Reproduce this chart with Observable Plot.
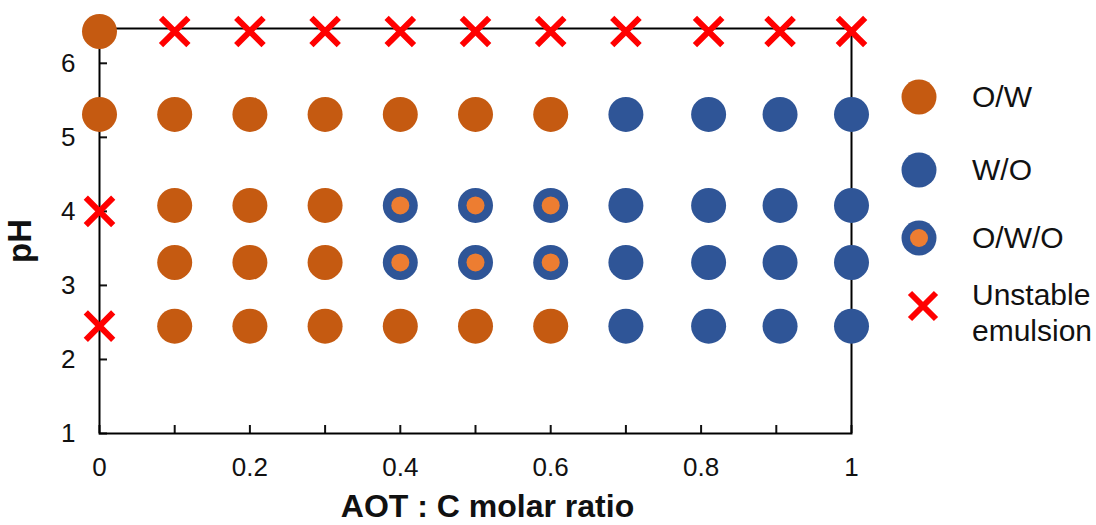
<!DOCTYPE html>
<html><head><meta charset="utf-8">
<script src="https://cdn.jsdelivr.net/npm/d3@7"></script>
<script src="https://cdn.jsdelivr.net/npm/@observablehq/plot@0.6"></script>
<style>
body{margin:0;background:#fff;font-family:"Liberation Sans",Arial,sans-serif;}
#wrap{position:relative;width:1096px;height:525px;overflow:hidden;}
#chart{position:absolute;left:0;top:0;}
.item{position:absolute;left:899px;display:flex;align-items:center;font-size:30px;color:#111;line-height:36px;}
.sym{width:40px;height:40px;display:flex;align-items:center;justify-content:center;margin-right:33px;}
</style>
</head><body>
<div id="wrap"><div id="chart"></div><div id="legend"></div></div>
<script>
// AOT : C molar ratio columns
const ratio = [0, 0.1, 0.2, 0.3, 0.4, 0.5, 0.6, 0.7, 0.81, 0.905, 1];
// pH of each row
const rowPH = [6.43, 5.31, 4.08, 3.31, 2.45];
// state per row/column: O = O/W, W = W/O, M = O/W/O, X = unstable, - = none
const rowState = [
  ["O","X","X","X","X","X","X","X","X","X","X"],
  ["O","O","O","O","O","O","O","W","W","W","W"],
  ["-","O","O","O","M","M","M","W","W","W","W"],
  ["-","O","O","O","M","M","M","W","W","W","W"],
  ["X","O","O","O","O","O","O","W","W","W","W"]
];
// extra unstable point on the y axis
const edgeRatio = [0];
const edgePH = [4.0];
const yTicks = [1, 2, 3, 4, 5, 6];
const xMinorTicks = [0, 0.1, 0.2, 0.3, 0.4, 0.5, 0.6, 0.7, 0.8, 0.9, 1];
const xLabelTicks = [0, 0.2, 0.4, 0.6, 0.8, 1];
const legendLabels = ["O/W", "W/O", "O/W/O", "Unstable<br>emulsion"];

const colOW = "#C55A11", colWO = "#2F5597", colInner = "#ED7D31", colX = "#FF0000";

const pts = [];
rowState.forEach((row, i) => row.forEach((s, j) => {
  if (s !== "-") pts.push({ratio: ratio[j], pH: rowPH[i], s});
}));
edgeRatio.forEach((r, k) => pts.push({ratio: r, pH: edgePH[k], s: "X"}));

const fmt = d => d === 0 ? "0" : d === 1 ? "1" : String(d);

const chart = Plot.plot({
  width: 870, height: 525,
  marginLeft: 99, marginRight: 19, marginTop: 28, marginBottom: 92,
  style: {fontFamily: "Liberation Sans, Arial, sans-serif", color: "#111", background: "#fff"},
  x: {domain: [0, 1], label: null},
  y: {domain: [1, 6.47], label: null},
  marks: [
    Plot.axisX({ticks: xMinorTicks, tickSize: -8, tickFormat: () => "", strokeWidth: 2, label: null}),
    Plot.axisX({ticks: xLabelTicks, tickSize: 0, tickPadding: 24, tickFormat: fmt, fontSize: 26, label: null}),
    Plot.axisY({ticks: yTicks, tickSize: -8, tickFormat: () => "", strokeWidth: 2, label: null}),
    Plot.axisY({ticks: yTicks, tickSize: 0, tickPadding: 24, tickFormat: fmt, fontSize: 26, label: null}),
    Plot.frame({stroke: "#000", strokeWidth: 2}),
    Plot.dot(pts.filter(d => d.s === "O"), {x: "ratio", y: "pH", r: 17.5, fill: colOW}),
    Plot.dot(pts.filter(d => d.s === "W" || d.s === "M"), {x: "ratio", y: "pH", r: 17.5, fill: colWO}),
    Plot.dot(pts.filter(d => d.s === "M"), {x: "ratio", y: "pH", r: 9, fill: colInner}),
    Plot.dot(pts.filter(d => d.s === "X"), {x: "ratio", y: "pH", r: 12.5, symbol: "times", stroke: colX, strokeWidth: 6}),
    Plot.text(["AOT : C molar ratio"], {frameAnchor: "bottom", dx: 12, dy: 83, fontSize: 32, fontWeight: "bold", fill: "#111"}),
    Plot.text(["pH"], {frameAnchor: "left", dx: -79, dy: 32, rotate: -90, fontSize: 33, fontWeight: "bold", fill: "#111"})
  ]
});
document.getElementById("chart").appendChild(chart);

// legend
const legend = document.getElementById("legend");
const syms = [
  `<svg width="40" height="40"><circle cx="20" cy="20" r="17.5" fill="${colOW}"/></svg>`,
  `<svg width="40" height="40"><circle cx="20" cy="20" r="17.5" fill="${colWO}"/></svg>`,
  `<svg width="40" height="40"><circle cx="20" cy="20" r="17.5" fill="${colWO}"/><circle cx="20" cy="20" r="9" fill="${colInner}"/></svg>`,
  `<svg width="40" height="40"><path d="M7,7L33,33M33,7L7,33" stroke="${colX}" stroke-width="6"/></svg>`
];
const tops = [77, 150, 218, 277];
legendLabels.forEach((lab, i) => {
  const el = document.createElement("div");
  el.className = "item";
  el.style.top = tops[i] + "px";
  el.innerHTML = `<div class="sym" style="${i === 3 ? "margin-top:-14px;margin-left:4px;margin-right:29px" : ""}">${syms[i]}</div><div>${lab}</div>`;
  legend.appendChild(el);
});
</script>
</body></html>
